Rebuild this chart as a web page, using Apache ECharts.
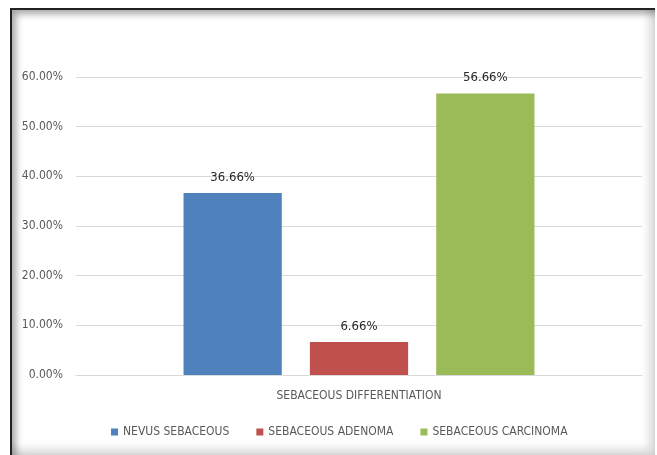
<!DOCTYPE html>
<html><head><meta charset="utf-8">
<script src="https://cdn.jsdelivr.net/npm/echarts@6/dist/echarts.min.js"></script>
<style>
html,body{margin:0;padding:0;background:#fff;width:657px;height:455px;overflow:hidden;}
#frame{position:absolute;left:10px;top:8px;width:645px;height:447px;box-sizing:border-box;border-top:2px solid #222;border-left:2px solid #222;box-shadow:inset 4px 4px 7px rgba(0,0,0,0.35), inset -6px -6px 8px rgba(0,0,0,0.15);pointer-events:none;z-index:2;}
#chart{position:absolute;left:0;top:0;width:657px;height:455px;}
</style></head>
<body>
<div id="chart"></div>
<div id="frame"></div>
<script>
var categories = ['SEBACEOUS DIFFERENTIATION'];
var seriesNames = ['NEVUS SEBACEOUS', 'SEBACEOUS ADENOMA', 'SEBACEOUS CARCINOMA'];
var nevusValues = [36.66];
var adenomaValues = [6.66];
var carcinomaValues = [56.66];
var colors = ['#4F81BD', '#C0504D', '#9BBB59'];
var font = '"DejaVu Sans Condensed", Lato, sans-serif';
var chart = echarts.init(document.getElementById('chart'), null, {renderer:'canvas'});
function mk(name, data, color){
  return {name:name, type:'bar', data:data, barGap:'28.6%', barCategoryGap:'38%',
    itemStyle:{color:color},
    label:{show:true, position:'top', distance:9, formatter:function(p){return p.value.toFixed(2)+'%';}, color:'#262626', fontSize:13, fontFamily:font}};
}
chart.setOption({
  animation:false,
  textStyle:{fontFamily:font},
  grid:{left:76, right:15, top:77, bottom:80, containLabel:false},
  legend:{bottom:12, left:106, itemWidth:7, itemHeight:7, itemGap:27, icon:'rect',
    textStyle:{color:'#595959', fontSize:12, fontFamily:font}},
  xAxis:{type:'category', data:categories,
    axisLine:{lineStyle:{color:'#d9d9d9'}}, axisTick:{show:false},
    axisLabel:{color:'#595959', fontSize:12, margin:15, fontFamily:font}},
  yAxis:{type:'value', min:0, max:60, interval:10,
    axisLabel:{formatter:function(v){return v.toFixed(2)+'%';}, color:'#595959', fontSize:12, margin:13, fontFamily:font},
    axisLine:{show:false}, axisTick:{show:false},
    splitLine:{lineStyle:{color:'#d9d9d9'}}},
  series:[mk(seriesNames[0], nevusValues, colors[0]), mk(seriesNames[1], adenomaValues, colors[1]), mk(seriesNames[2], carcinomaValues, colors[2])]
});
</script>
</body></html>
